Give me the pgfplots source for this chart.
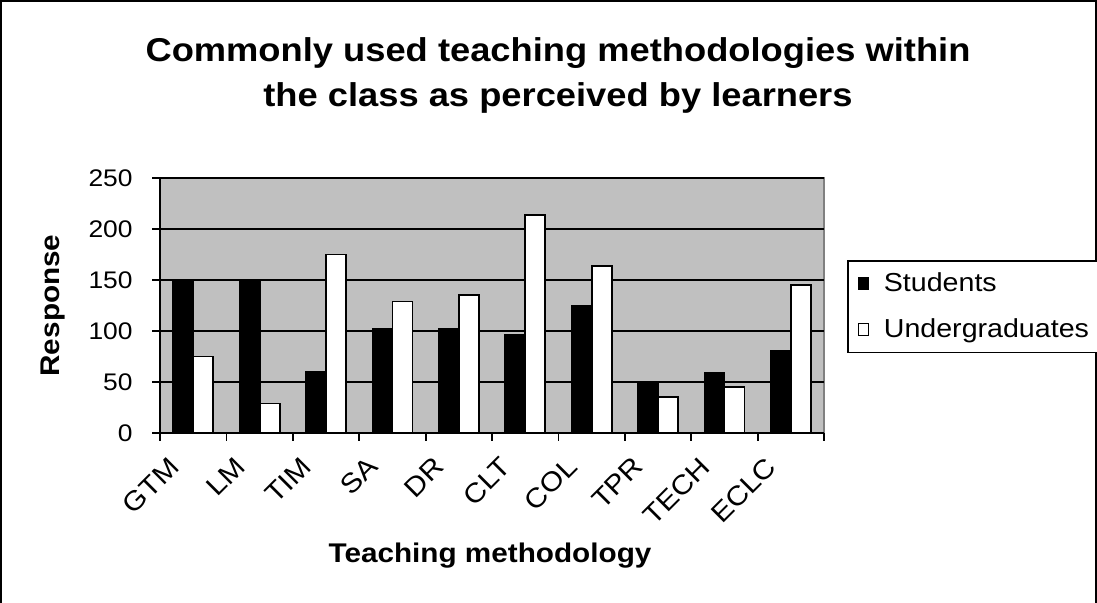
\documentclass[border=0pt]{standalone}
\usepackage{fontspec}
\setmainfont[FakeStretch=1.1]{Liberation Sans}
\usepackage{pgfplots}
\pgfplotsset{compat=1.18}
\definecolor{plotgray}{HTML}{C0C0C0}
\definecolor{framegray}{HTML}{808080}

\begin{document}
\begin{tikzpicture}
\useasboundingbox (0,0) rectangle (548.5pt,301.5pt);
\draw[line width=1pt] (0.5pt,0) -- (0.5pt,301pt) -- (548pt,301pt) -- (548pt,0);
% title, two lines
\node[font=\fontsize{16.5}{19}\selectfont\bfseries, anchor=base, inner sep=0pt] at (279pt,270.5pt) {Commonly used teaching methodologies within};
\node[font=\fontsize{16.5}{19}\selectfont\bfseries, anchor=base, inner sep=0pt] at (279pt,248pt) {the class as perceived by learners};

\begin{axis}[
    at={(80pt,85pt)}, anchor=south west,
    scale only axis, width=332pt, height=127.5pt,
    xmin=-0.5, xmax=9.5, ymin=0, ymax=250,
    axis x line*=bottom, axis y line*=left,
    axis line style={black, line width=0.9pt},
    axis background/.style={fill=plotgray, draw=framegray, line width=0.9pt},
    xtick={-0.5,0.5,...,9.5},
    xticklabels={,,,,,,,,,,,},
    extra x ticks={0,1,2,3,4,5,6,7,8,9},
    extra x tick labels={GTM,LM,TIM,SA,DR,CLT,COL,TPR,TECH,ECLC},
    extra x tick style={major tick length=0pt, grid=none},
    ytick={0,50,...,250},
    tick align=outside,
    major tick length=4pt,
    tick style={black, line width=0.9pt},
    ymajorgrids, grid style={black, line width=0.9pt},
    /pgf/number format/assume math mode=true,
    yticklabel style={font=\fontsize{12}{14}\selectfont, anchor=east, inner sep=0pt, xshift=-9.5pt},
    xticklabel style={font=\fontsize{13.5}{15}\selectfont, inner sep=0pt, xshift=-13pt, yshift=-11pt, rotate=45, anchor=north east},
    ylabel={Response},
    ylabel style={font=\fontsize{13.5}{16}\selectfont\bfseries, at={(axis description cs:-0.161,0.5)}, anchor=center, rotate=0},
    xlabel={Teaching methodology},
    xlabel style={font=\fontsize{13.5}{16}\selectfont\bfseries, at={(axis description cs:0.497,-0.506)}, anchor=base},
    legend style={at={(axis description cs:1.0346,0.6784)}, anchor=north west,
        draw=black, line width=0.9pt, fill=white,
        font=\fontsize{13}{16}\selectfont,
        inner xsep=4pt, inner ysep=4pt, row sep=8pt},
    legend cell align=left,
    legend image code/.code={\draw[#1, line width=0.5pt] (1.5pt,-3pt) rectangle (6.5pt,3pt); \path[draw=none, fill=none] (0pt,0pt) -- (12pt,0pt);},
  ]
  \addplot[ybar, bar width=10pt, bar shift=-5pt, fill=black, draw=black, line width=0.9pt]
    coordinates {(0,150) (1,150) (2,60) (3,102) (4,102) (5,96) (6,125) (7,50) (8,59) (9,80)};
  \addlegendentry{Students}
  \addplot[ybar, bar width=10pt, bar shift=5pt, fill=white, draw=black, line width=0.9pt]
    coordinates {(0,75) (1,29) (2,175) (3,129) (4,135) (5,214) (6,164) (7,35) (8,45) (9,145)};
  \addlegendentry{Undergraduates}
\end{axis}
\end{tikzpicture}
\end{document}
